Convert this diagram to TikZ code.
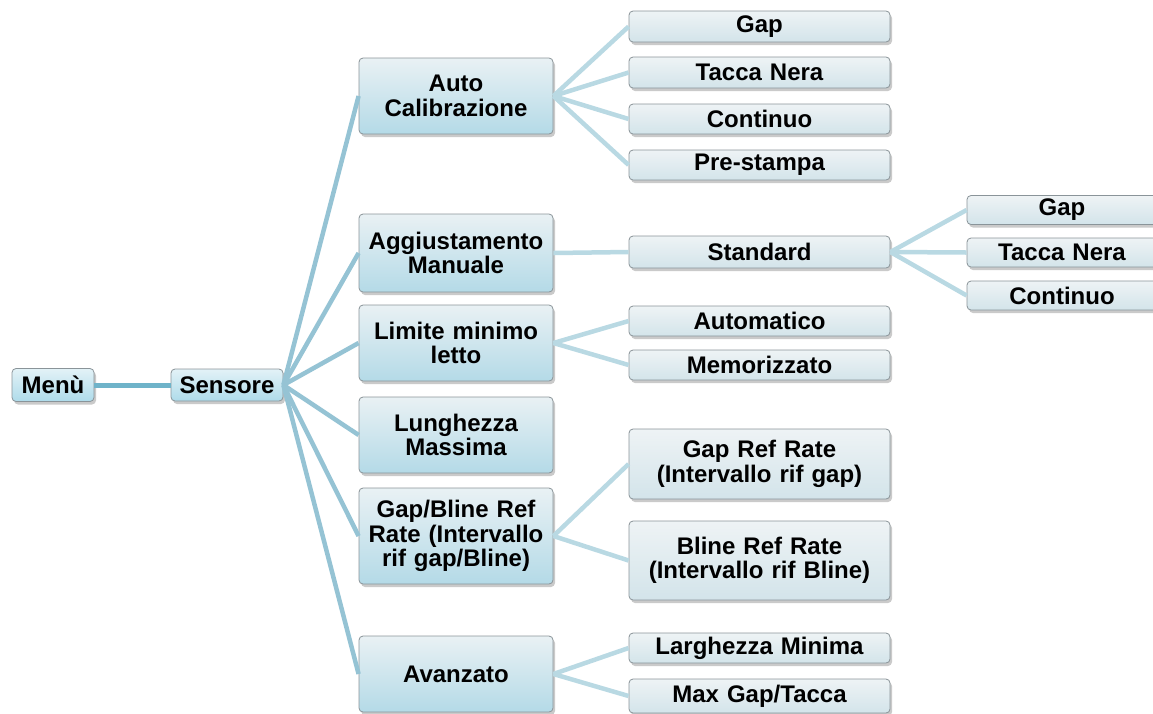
\documentclass[tikz,border=0pt]{standalone}
\usepackage{fontspec}
\setmainfont{Liberation Sans}
\usetikzlibrary{shadows}
\definecolor{edgegray}{HTML}{8A9499}
\definecolor{lvone}{HTML}{6FB3C9}
\definecolor{lvtwo}{HTML}{95C3D4}
\definecolor{lvthree}{HTML}{B9D9E3}
\definecolor{HTML1}{HTML}{E3F2F7}
\definecolor{HTML2}{HTML}{AEDBEA}
\definecolor{l2top}{HTML}{E9F1F4}
\definecolor{l2bot}{HTML}{B4DAE7}
\definecolor{l3top}{HTML}{EEF3F5}
\definecolor{l3bot}{HTML}{D3E4EA}
\tikzset{
  base/.style={draw=edgegray, line width=0.8pt, rounded corners=4pt, align=center,
    font=\fontsize{24}{24.5}\selectfont\bfseries, inner sep=0pt,
    drop shadow={shadow xshift=2pt, shadow yshift=-3pt, opacity=0.35, fill=black!60}},
  rootbox/.style={base, top color=HTML1, bottom color=HTML2},
  lvtwobox/.style={base, top color=l2top, bottom color=l2bot, minimum width=194pt, text width=192pt},
  lvthreebox/.style={base, top color=l3top, bottom color=l3bot, minimum width=261pt, text width=259pt},
  lvfourbox/.style={base, top color=l3top, bottom color=l3bot, minimum width=190pt, text width=190pt, minimum height=29pt},
  conA/.style={draw=lvone, line width=5pt},
  conB/.style={draw=lvtwo, line width=4.5pt},
  conC/.style={draw=lvthree, line width=4.5pt},
}
\begin{document}
\begin{tikzpicture}[x=1pt,y=-1pt]
\useasboundingbox (0,0) rectangle (1153,713);
% root
\node[rootbox, minimum width=82pt, minimum height=33pt] (menu) at (53,385) {Menù};
\node[rootbox, minimum width=112pt, minimum height=32pt] (sens) at (227,385) {Sensore};
% level 2
\node[lvtwobox, minimum height=76pt] (auto) at (456,96) {Auto\\Calibrazione};
\node[lvtwobox, minimum height=78pt] (aggi) at (456,253) {Aggiustamento\\Manuale};
\node[lvtwobox, minimum height=76pt] (limi) at (456,343) {Limite minimo\\letto};
\node[lvtwobox, minimum height=76pt] (lung) at (456,435) {Lunghezza\\Massima};
\node[lvtwobox, minimum height=96pt] (gapb) at (456,536) {Gap/Bline Ref\\Rate (Intervallo\\rif gap/Bline)};
\node[lvtwobox, minimum height=76pt] (avan) at (456,674) {Avanzato};
% level 3
\node[lvthreebox, minimum height=31pt] (agap) at (759.5,26.5) {Gap};
\node[lvthreebox, minimum height=31pt] (atac) at (759.5,72.5) {Tacca Nera};
\node[lvthreebox, minimum height=30pt] (acon) at (759.5,119) {Continuo};
\node[lvthreebox, minimum height=30pt] (apre) at (759.5,165) {Pre-stampa};
\node[lvthreebox, minimum height=32pt] (stan) at (759.5,252) {Standard};
\node[lvthreebox, minimum height=30pt] (laut) at (759.5,321) {Automatico};
\node[lvthreebox, minimum height=30pt] (lmem) at (759.5,365) {Memorizzato};
\node[lvthreebox, minimum height=70pt] (grr) at (759.5,464) {Gap Ref Rate\\(Intervallo rif gap)};
\node[lvthreebox, minimum height=79pt] (brr) at (759.5,560.5) {Bline Ref Rate\\(Intervallo rif Bline)};
\node[lvthreebox, minimum height=30pt] (larg) at (759.5,648) {Larghezza Minima};
\node[lvthreebox, minimum height=34pt] (maxg) at (759.5,696) {Max Gap/Tacca};
% level 4
\node[lvfourbox] (sgap) at (1062,210) {Gap};
\node[lvfourbox] (stac) at (1062,252.5) {Tacca Nera};
\node[lvfourbox] (scon) at (1062,295.5) {Continuo};
% connectors
\draw[conA] (menu.east) -- (sens.west);
\foreach \t in {auto,aggi,limi,lung,gapb,avan}
  \draw[conB] (sens.east) -- (\t.west);
\foreach \t in {agap,atac,acon,apre}
  \draw[conC] (auto.east) -- (\t.west);
\draw[conC] (aggi.east) -- (stan.west);
\foreach \t in {laut,lmem}
  \draw[conC] (limi.east) -- (\t.west);
\foreach \t in {grr,brr}
  \draw[conC] (gapb.east) -- (\t.west);
\foreach \t in {larg,maxg}
  \draw[conC] (avan.east) -- (\t.west);
\foreach \t in {sgap,stac,scon}
  \draw[conC] (stan.east) -- (\t.west);
\end{tikzpicture}
\end{document}
